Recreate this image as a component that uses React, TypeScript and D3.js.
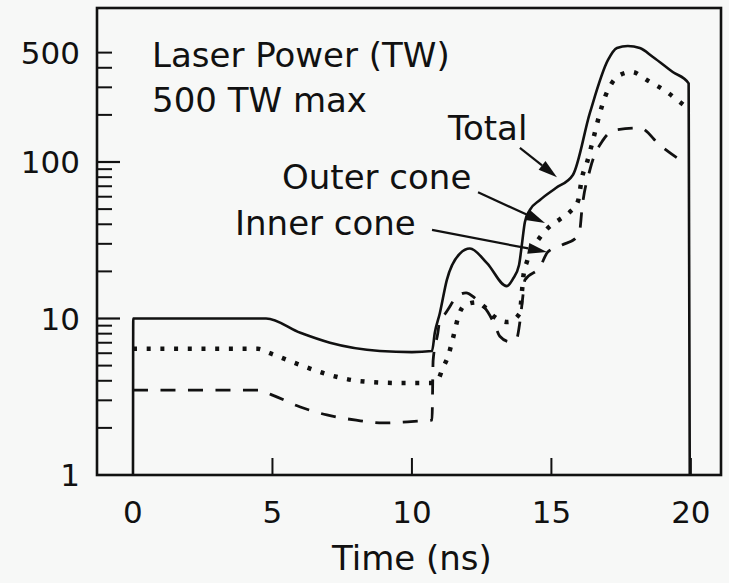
import React from 'react';
import * as d3 from 'd3';

// [time (ns), power (TW)]
const totalPower: [number, number][] = [
  [0, 1], [0.01, 10], [4.77, 10], [6.0, 8.1], [7.06, 7.0], [8.85, 6.2], [10.0, 6.1],
  [10.72, 6.2], [10.82, 8.1], [11.0, 10.8], [11.25, 17.6], [11.72, 26], [12.08, 28],
  [12.69, 22.6], [13.4, 16.1], [13.62, 17.9], [13.84, 22], [13.94, 29.5], [14.05, 41.4],
  [14.23, 49.4], [14.59, 57.2], [15.16, 68.2], [15.77, 82.6], [16.38, 206], [17.03, 449],
  [17.35, 535], [17.74, 551], [18.17, 535], [18.64, 469], [19.35, 376], [19.92, 318],
  [19.96, 1],
];

const outerCone: [number, number][] = [
  [0, 6.4], [4.48, 6.4], [4.91, 6.0], [5.99, 5.05], [7.06, 4.35], [8.14, 3.98], [9.57, 3.87],
  [10.72, 3.87], [10.93, 4.05], [11.1, 4.8], [11.29, 5.7], [11.43, 7.0], [11.54, 8.4],
  [11.65, 10.1], [11.9, 12.2], [12.33, 12.7], [12.62, 11.8], [12.97, 10.2], [13.44, 9.5],
  [13.87, 10.8], [13.94, 14.6], [14.01, 19.5], [14.12, 23], [14.59, 33], [14.91, 38.4],
  [15.3, 43], [15.66, 47.9], [15.95, 56], [16.1, 80], [16.27, 98.6], [16.49, 138],
  [16.74, 206], [16.92, 260], [17.17, 320], [17.46, 360], [17.89, 376], [18.42, 334],
  [19.14, 280], [19.6, 242], [19.96, 215],
];

const innerCone: [number, number][] = [
  [0, 3.49], [4.48, 3.49], [5.0, 3.24], [6.0, 2.72], [6.95, 2.42], [8.0, 2.24], [8.96, 2.15],
  [10.2, 2.21], [10.72, 2.24], [10.76, 5.4], [10.93, 8.1], [11.0, 9.8], [11.2, 10.8],
  [11.6, 13.7], [11.94, 14.6], [12.26, 13.5], [12.72, 11], [12.97, 9.1], [13.15, 7.7],
  [13.5, 7.1], [13.76, 7.5], [13.87, 9.5], [13.98, 14], [14.05, 17.6], [14.59, 21.3],
  [14.87, 26.6], [15.38, 29.5], [15.88, 32.7], [16.02, 36.8], [16.09, 49], [16.38, 89],
  [16.85, 138], [17.28, 160], [18.17, 165], [18.89, 128], [19.86, 96],
];

const xTicks = [0, 5, 10, 15, 20];
const yLabelTicks = [1, 10, 100, 500];
const yMajorTicks = [10, 100];
const yMinorTicks = [2, 3, 4, 5, 6, 7, 8, 9, 20, 30, 40, 50, 60, 70, 80, 90, 200, 300, 400, 500];

// arrows: label, tail [t, P], tip [t, P]
const arrowLabels = ['Total', 'Outer cone', 'Inner cone'];
const arrowTails: [number, number][] = [[13.87, 123], [12.37, 64], [10.72, 36.8]];
const arrowTips: [number, number][] = [[15.2, 80], [14.77, 40.8], [14.84, 26.6]];

const W = 729;
const H = 583;
const left = 97, right = 721, top = 8, bottom = 475;
const font = 'DejaVu Sans, sans-serif';

const App = () => {
  const x = d3.scaleLinear().domain([-1.29, 21.08]).range([left, right]);
  const y = d3.scaleLog().domain([1, Math.pow(10, (bottom - top) / 156.5)]).range([bottom, top]);

  const line = d3.line<[number, number]>()
    .x(d => x(d[0]))
    .y(d => y(d[1]))
    .curve(d3.curveMonotoneX);

  const labelPos = [[448, 140], [282, 189], [235, 235]];

  return (
    <svg width={W} height={H} style={{ position: 'absolute', left: 0, top: 0, background: '#f7f8f7' }}>
      <rect x={0} y={0} width={W} height={H} fill="#f7f8f7" />

      {/* y ticks, inside */}
      {yMinorTicks.map(v => (
        <line key={'mn' + v} x1={left} x2={left + 15} y1={y(v)} y2={y(v)} stroke="#111" strokeWidth={2} />
      ))}
      {yMajorTicks.map(v => (
        <line key={'mj' + v} x1={left} x2={left + 23} y1={y(v)} y2={y(v)} stroke="#111" strokeWidth={2.2} />
      ))}
      {yLabelTicks.map(v => (
        <text key={'yl' + v} x={80} y={y(v)} dy="0.36em" textAnchor="end" fontFamily={font} fontSize={31} fill="#111">
          {v}
        </text>
      ))}

      {/* x ticks, inside */}
      {xTicks.map(v => (
        <g key={'xt' + v}>
          <line x1={x(v)} x2={x(v)} y1={bottom} y2={bottom - 17} stroke="#111" strokeWidth={2} />
          <text x={x(v)} y={523} textAnchor="middle" fontFamily={font} fontSize={31} fill="#111">{v}</text>
        </g>
      ))}
      <text x={x(10)} y={570} textAnchor="middle" fontFamily={font} fontSize={34} fill="#111">Time (ns)</text>

      {/* series */}
      <path d={line(totalPower) ?? ''} fill="none" stroke="#111" strokeWidth={2.6} />
      <path d={line(outerCone) ?? ''} fill="none" stroke="#111" strokeWidth={4.5} strokeDasharray="4 9.7" />
      <path d={line(innerCone) ?? ''} fill="none" stroke="#111" strokeWidth={2.8} strokeDasharray="15 12.5" />

      {/* frame */}
      <rect x={left} y={top} width={right - left} height={bottom - top} fill="none" stroke="#111" strokeWidth={2.6} />

      <text x={152} y={67} fontFamily={font} fontSize={34} fill="#111">Laser Power (TW)</text>
      <text x={152} y={112} fontFamily={font} fontSize={34} fill="#111">500 TW max</text>

      {arrowLabels.map((lab, i) => {
        const x0 = x(arrowTails[i][0]), y0 = y(arrowTails[i][1]);
        const x1 = x(arrowTips[i][0]), y1 = y(arrowTips[i][1]);
        const a = Math.atan2(y1 - y0, x1 - x0);
        const len = 19, hw = 5.5;
        const bx = x1 - len * Math.cos(a), by = y1 - len * Math.sin(a);
        const head = [
          [x1, y1],
          [bx + hw * Math.sin(a), by - hw * Math.cos(a)],
          [bx - hw * Math.sin(a), by + hw * Math.cos(a)],
        ].map(p => p.join(',')).join(' ');
        return (
          <g key={lab}>
            <text x={labelPos[i][0]} y={labelPos[i][1]} fontFamily={font} fontSize={34} fill="#111">{lab}</text>
            <line x1={x0} y1={y0} x2={bx} y2={by} stroke="#111" strokeWidth={2.2} />
            <polygon points={head} fill="#111" />
          </g>
        );
      })}
    </svg>
  );
};

export default App;
